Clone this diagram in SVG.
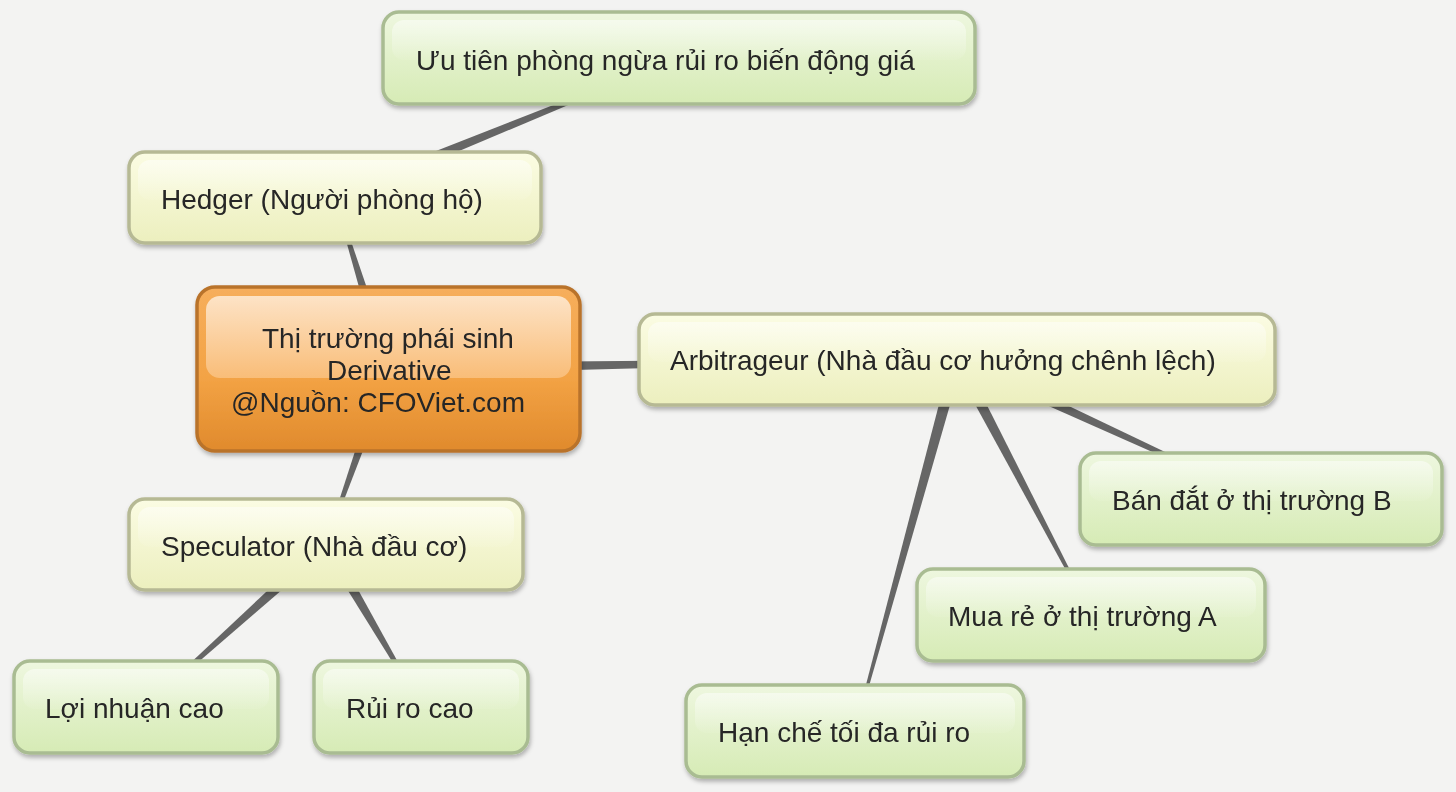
<svg xmlns="http://www.w3.org/2000/svg" width="1456" height="792" viewBox="0 0 1456 792">
<defs>
<linearGradient id="gGreen" x1="0" y1="0" x2="0" y2="1">
<stop offset="0" stop-color="#eef7df"/>
<stop offset="1" stop-color="#d6ebb5"/>
</linearGradient>
<linearGradient id="gYellow" x1="0" y1="0" x2="0" y2="1">
<stop offset="0" stop-color="#fbfce3"/>
<stop offset="1" stop-color="#ecefbe"/>
</linearGradient>
<linearGradient id="gOrange" x1="0" y1="0" x2="0" y2="1">
<stop offset="0" stop-color="#f6ae5c"/>
<stop offset="0.55" stop-color="#f3a345"/>
<stop offset="1" stop-color="#e08a2c"/>
</linearGradient>
<linearGradient id="gShine" x1="0" y1="0" x2="0" y2="1">
<stop offset="0" stop-color="#ffffff" stop-opacity="0.5"/>
<stop offset="1" stop-color="#ffffff" stop-opacity="0.05"/>
</linearGradient>
<linearGradient id="gShineO" x1="0" y1="0" x2="0" y2="1">
<stop offset="0" stop-color="#fde3c6"/>
<stop offset="1" stop-color="#f9bd78"/>
</linearGradient>
<filter id="sh" x="-10%" y="-20%" width="120%" height="150%">
<feDropShadow dx="1" dy="3" stdDeviation="2" flood-color="#000" flood-opacity="0.28"/>
</filter>
</defs>
<style>
.green{fill:url(#gGreen);stroke:#a9bc92;stroke-width:3.5}
.yellow{fill:url(#gYellow);stroke:#b6b994;stroke-width:3.5}
.root{fill:url(#gOrange);stroke:#b9732c;stroke-width:3.5}
.shine{fill:url(#gShine)}
.shineO{fill:url(#gShineO)}
.conn{fill:#666666}
text{font-family:"Liberation Sans",Arial,sans-serif;font-size:28px;fill:#262626}
</style>
<rect x="0" y="0" width="1456" height="792" fill="#f3f3f2"/>
<g id="connectors">
<polygon class="conn" points="393.7,367.2 336,196.7 334,197.3 382.3,370.8"/>
<polygon class="conn" points="337.3,202.6 679.4,57.9 678.6,56.1 332.7,191.4"/>
<polygon class="conn" points="388.1,375 957,360 957,358 387.9,363"/>
<polygon class="conn" points="382.3,367 325.1,543.7 326.9,544.3 393.7,371"/>
<polygon class="conn" points="322,539.5 145.3,705.3 146.7,706.7 330,548.5"/>
<polygon class="conn" points="320.8,547 420.1,706.5 421.9,705.5 331.2,541"/>
<polygon class="conn" points="954.5,364.4 1260.6,499.9 1261.4,498.1 959.5,353.6"/>
<polygon class="conn" points="951.7,361.8 1090.1,614.5 1091.9,613.5 962.3,356.2"/>
<polygon class="conn" points="951.2,357.4 854,730.7 856,731.3 962.8,360.6"/>
</g>
<g id="node-root" filter="url(#sh)">
<rect class="root" x="197" y="287" width="383" height="164" rx="18"/>
<rect class="shineO" x="206" y="296" width="365" height="82" rx="14"/>
<text x="262" y="348">Thị trường phái sinh</text>
<text x="327" y="380">Derivative</text>
<text x="231" y="412">@Nguồn: CFOViet.com</text>
</g>
<g id="node-uutien" filter="url(#sh)">
<rect class="green" x="383" y="12" width="592" height="92" rx="16"/>
<rect class="shine" x="392" y="20" width="574" height="40" rx="12"/>
<text x="416" y="70">Ưu tiên phòng ngừa rủi ro biến động giá</text>
</g>
<g id="node-hedger" filter="url(#sh)">
<rect class="yellow" x="129" y="152" width="412" height="91" rx="16"/>
<rect class="shine" x="138" y="160" width="394" height="40" rx="12"/>
<text x="161" y="209">Hedger (Người phòng hộ)</text>
</g>
<g id="node-arbitrageur" filter="url(#sh)">
<rect class="yellow" x="639" y="314" width="636" height="91" rx="16"/>
<rect class="shine" x="648" y="322" width="618" height="40" rx="12"/>
<text x="670" y="370">Arbitrageur (Nhà đầu cơ hưởng chênh lệch)</text>
</g>
<g id="node-banda" filter="url(#sh)">
<rect class="green" x="1080" y="453" width="362" height="92" rx="16"/>
<rect class="shine" x="1089" y="461" width="344" height="40" rx="12"/>
<text x="1112" y="510">Bán đắt ở thị trường B</text>
</g>
<g id="node-muare" filter="url(#sh)">
<rect class="green" x="917" y="569" width="348" height="92" rx="16"/>
<rect class="shine" x="926" y="577" width="330" height="40" rx="12"/>
<text x="948" y="626">Mua rẻ ở thị trường A</text>
</g>
<g id="node-hanche" filter="url(#sh)">
<rect class="green" x="686" y="685" width="338" height="92" rx="16"/>
<rect class="shine" x="695" y="693" width="320" height="40" rx="12"/>
<text x="718" y="742">Hạn chế tối đa rủi ro</text>
</g>
<g id="node-speculator" filter="url(#sh)">
<rect class="yellow" x="129" y="499" width="394" height="91" rx="16"/>
<rect class="shine" x="138" y="507" width="376" height="40" rx="12"/>
<text x="161" y="556">Speculator (Nhà đầu cơ)</text>
</g>
<g id="node-loinhuan" filter="url(#sh)">
<rect class="green" x="14" y="661" width="264" height="92" rx="16"/>
<rect class="shine" x="23" y="669" width="246" height="40" rx="12"/>
<text x="45" y="718">Lợi nhuận cao</text>
</g>
<g id="node-ruiro" filter="url(#sh)">
<rect class="green" x="314" y="661" width="214" height="92" rx="16"/>
<rect class="shine" x="323" y="669" width="196" height="40" rx="12"/>
<text x="346" y="718">Rủi ro cao</text>
</g>
</svg>
